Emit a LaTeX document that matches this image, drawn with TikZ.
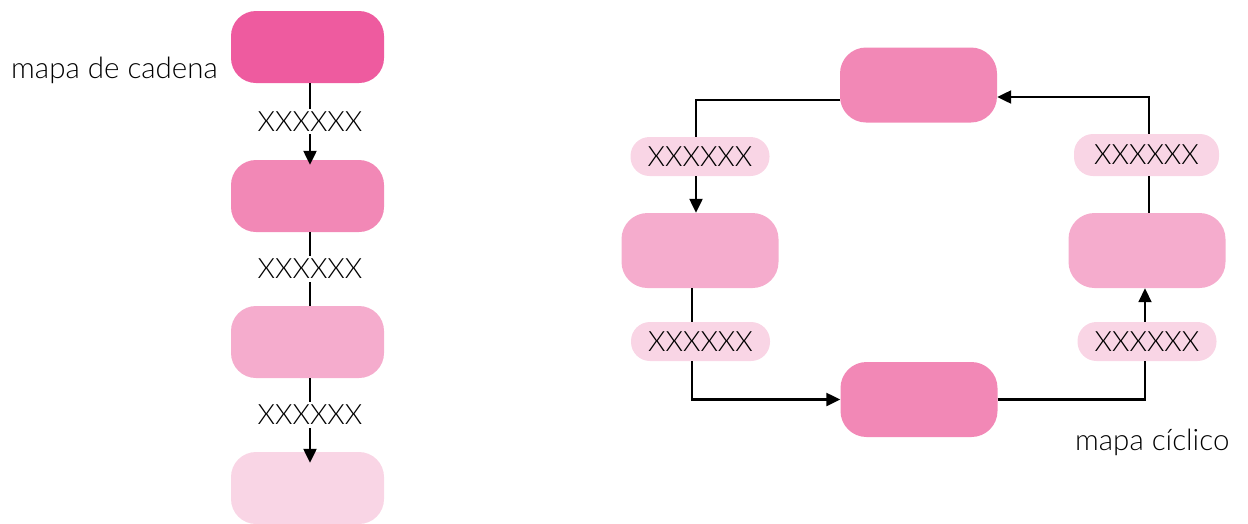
\documentclass[tikz,border=0pt]{standalone}
\usepackage{fontspec}
\setmainfont{Lato Light}
\usetikzlibrary{arrows.meta}
\definecolor{pinkA}{HTML}{EE5B9F}
\definecolor{pinkB}{HTML}{F288B6}
\definecolor{pinkC}{HTML}{F5ACCD}
\definecolor{pinkD}{HTML}{F9D5E5}
\tikzset{
  box/.style={rounded corners=25pt, minimum width=153pt, minimum height=72pt, inner sep=0pt, draw=none},
  cbox/.style={rounded corners=26pt, minimum width=157pt, minimum height=75pt, inner sep=0pt, draw=none},
  pill/.style={fill=pinkD, rounded corners=19pt, minimum width=139pt, minimum height=39pt, inner sep=0pt, font=\fontsize{28}{30}\selectfont},
  lab/.style={fill=white, inner sep=3pt, font=\fontsize{28}{30}\selectfont},
  txt/.style={font=\fontsize{29.5}{30}\selectfont, inner sep=0pt},
  conn/.style={line width=2.3pt},
  arr/.style={conn, -{Triangle[length=14pt,width=13pt]}}
}
\begin{document}
\begin{tikzpicture}[x=1pt,y=-1pt]
\useasboundingbox (0,0) rectangle (1248,523);
% left chain
\node[box, fill=pinkA] (b1) at (307.5,47) {};
\node[box, fill=pinkB] (b2) at (307.5,196) {};
\node[box, fill=pinkC] (b3) at (307.5,342) {};
\node[box, fill=pinkD] (b4) at (307.5,488) {};
\node[txt, anchor=base east] (t1) at (218,78) {mapa de cadena};
\draw[arr, shorten >=-5pt] ([xshift=2.5pt]b1.south) -- node[lab] {XXXXXX} ([xshift=2.5pt]b2.north);
\draw[conn] ([xshift=2.5pt]b2.south) -- node[lab] {XXXXXX} ([xshift=2.5pt]b3.north);
\draw[arr, shorten >=-11pt] ([xshift=2.5pt]b3.south) -- node[lab] {XXXXXX} ([xshift=2.5pt]b4.north);
% cycle
\node[cbox, fill=pinkB] (T) at (918.5,85) {};
\node[cbox, fill=pinkC] (L) at (700,250.5) {};
\node[cbox, fill=pinkC] (R) at (1147,250.5) {};
\node[cbox, fill=pinkB] (B) at (919,399.5) {};
\node[pill] (PL1) at (700,156.5) {XXXXXX};
\node[pill, minimum width=145pt, minimum height=42pt] (PR1) at (1146.5,155) {XXXXXX};
\node[pill] (PL2) at (700.5,341.5) {XXXXXX};
\node[pill] (PR2) at (1147,341.5) {XXXXXX};
\node[txt, anchor=base west] (t2) at (1075,450) {mapa cíclico};
\draw[conn] ([yshift=-15pt]T.west) -| ([xshift=-4pt]PL1.north);
\draw[arr] ([xshift=-4pt]PL1.south) -- ([xshift=-4pt]L.north);
\draw[conn] ([xshift=-8pt]L.south) -- ([xshift=-8.5pt]PL2.north);
\draw[arr] ([xshift=-8.5pt]PL2.south) |- (B.west);
\draw[conn] (B.east) -| ([xshift=-2pt]PR2.south);
\draw[arr, line width=1.8pt] ([xshift=-2pt]PR2.north) -- ([xshift=-2pt]R.south);
\draw[conn] ([xshift=2pt]R.north) -- ([xshift=2.5pt]PR1.south);
\draw[arr] ([xshift=2.5pt]PR1.north) |- ([yshift=-12pt]T.east);
\end{tikzpicture}
\end{document}
